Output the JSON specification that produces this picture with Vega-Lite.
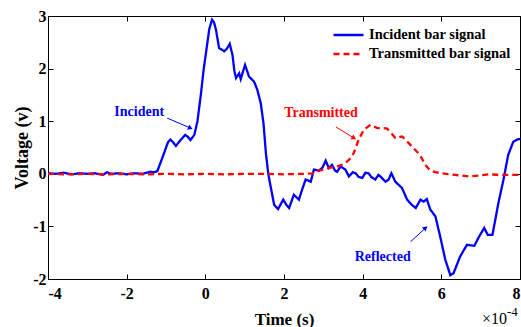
{
  "$schema": "https://vega.github.io/schema/vega-lite/v6.json",
  "width": 472,
  "height": 263,
  "autosize": {"type": "none"},
  "padding": {"left": 48, "top": 16, "right": 1, "bottom": 48},
  "background": "white",
  "config": {
    "view": {"stroke": "black", "strokeWidth": 1},
    "font": "Liberation Serif",
    "axis": {
      "grid": false,
      "domainColor": "black",
      "tickColor": "black",
      "tickSize": -5,
      "labelFont": "Liberation Serif",
      "labelFontWeight": "bold",
      "labelFontSize": 16,
      "labelColor": "black",
      "titleFont": "Liberation Serif",
      "titleFontWeight": "bold",
      "titleFontSize": 17,
      "titleColor": "black"
    }
  },
  "datasets": {
    "signals": [
      {"t": -4.0e-4, "v": 0.01, "series": "Incident bar signal"},
      {"t": -3.8e-4, "v": 0.0, "series": "Incident bar signal"},
      {"t": -3.6e-4, "v": 0.02, "series": "Incident bar signal"},
      {"t": -3.4e-4, "v": -0.01, "series": "Incident bar signal"},
      {"t": -3.2e-4, "v": 0.01, "series": "Incident bar signal"},
      {"t": -3.0e-4, "v": 0.0, "series": "Incident bar signal"},
      {"t": -2.8e-4, "v": 0.01, "series": "Incident bar signal"},
      {"t": -2.6e-4, "v": -0.02, "series": "Incident bar signal"},
      {"t": -2.5e-4, "v": 0.03, "series": "Incident bar signal"},
      {"t": -2.4e-4, "v": 0.0, "series": "Incident bar signal"},
      {"t": -2.2e-4, "v": 0.01, "series": "Incident bar signal"},
      {"t": -2.0e-4, "v": -0.01, "series": "Incident bar signal"},
      {"t": -1.8e-4, "v": 0.01, "series": "Incident bar signal"},
      {"t": -1.6e-4, "v": 0.0, "series": "Incident bar signal"},
      {"t": -1.4e-4, "v": 0.04, "series": "Incident bar signal"},
      {"t": -1.3e-4, "v": 0.03, "series": "Incident bar signal"},
      {"t": -1.22e-4, "v": 0.05, "series": "Incident bar signal"},
      {"t": -1.08e-4, "v": 0.33, "series": "Incident bar signal"},
      {"t": -0.95e-4, "v": 0.6, "series": "Incident bar signal"},
      {"t": -0.89e-4, "v": 0.65, "series": "Incident bar signal"},
      {"t": -0.82e-4, "v": 0.6, "series": "Incident bar signal"},
      {"t": -0.75e-4, "v": 0.53, "series": "Incident bar signal"},
      {"t": -0.62e-4, "v": 0.65, "series": "Incident bar signal"},
      {"t": -0.51e-4, "v": 0.74, "series": "Incident bar signal"},
      {"t": -0.44e-4, "v": 0.7, "series": "Incident bar signal"},
      {"t": -0.38e-4, "v": 0.64, "series": "Incident bar signal"},
      {"t": -0.28e-4, "v": 0.74, "series": "Incident bar signal"},
      {"t": -0.2e-4, "v": 1.0, "series": "Incident bar signal"},
      {"t": -0.11e-4, "v": 1.53, "series": "Incident bar signal"},
      {"t": -0.04e-4, "v": 2.0, "series": "Incident bar signal"},
      {"t": 0.015e-4, "v": 2.29, "series": "Incident bar signal"},
      {"t": 0.1e-4, "v": 2.75, "series": "Incident bar signal"},
      {"t": 0.17e-4, "v": 2.93, "series": "Incident bar signal"},
      {"t": 0.22e-4, "v": 2.88, "series": "Incident bar signal"},
      {"t": 0.27e-4, "v": 2.74, "series": "Incident bar signal"},
      {"t": 0.35e-4, "v": 2.39, "series": "Incident bar signal"},
      {"t": 0.48e-4, "v": 2.33, "series": "Incident bar signal"},
      {"t": 0.55e-4, "v": 2.38, "series": "Incident bar signal"},
      {"t": 0.62e-4, "v": 2.47, "series": "Incident bar signal"},
      {"t": 0.69e-4, "v": 2.26, "series": "Incident bar signal"},
      {"t": 0.74e-4, "v": 1.95, "series": "Incident bar signal"},
      {"t": 0.78e-4, "v": 1.82, "series": "Incident bar signal"},
      {"t": 0.86e-4, "v": 1.91, "series": "Incident bar signal"},
      {"t": 0.9e-4, "v": 1.8, "series": "Incident bar signal"},
      {"t": 0.96e-4, "v": 1.95, "series": "Incident bar signal"},
      {"t": 1.01e-4, "v": 2.07, "series": "Incident bar signal"},
      {"t": 1.11e-4, "v": 1.85, "series": "Incident bar signal"},
      {"t": 1.24e-4, "v": 1.75, "series": "Incident bar signal"},
      {"t": 1.32e-4, "v": 1.6, "series": "Incident bar signal"},
      {"t": 1.41e-4, "v": 1.34, "series": "Incident bar signal"},
      {"t": 1.48e-4, "v": 0.95, "series": "Incident bar signal"},
      {"t": 1.54e-4, "v": 0.39, "series": "Incident bar signal"},
      {"t": 1.6e-4, "v": 0.0, "series": "Incident bar signal"},
      {"t": 1.66e-4, "v": -0.24, "series": "Incident bar signal"},
      {"t": 1.75e-4, "v": -0.59, "series": "Incident bar signal"},
      {"t": 1.85e-4, "v": -0.67, "series": "Incident bar signal"},
      {"t": 1.98e-4, "v": -0.49, "series": "Incident bar signal"},
      {"t": 2.05e-4, "v": -0.58, "series": "Incident bar signal"},
      {"t": 2.13e-4, "v": -0.65, "series": "Incident bar signal"},
      {"t": 2.25e-4, "v": -0.4, "series": "Incident bar signal"},
      {"t": 2.38e-4, "v": -0.49, "series": "Incident bar signal"},
      {"t": 2.47e-4, "v": -0.28, "series": "Incident bar signal"},
      {"t": 2.55e-4, "v": -0.11, "series": "Incident bar signal"},
      {"t": 2.62e-4, "v": -0.13, "series": "Incident bar signal"},
      {"t": 2.68e-4, "v": -0.15, "series": "Incident bar signal"},
      {"t": 2.76e-4, "v": 0.08, "series": "Incident bar signal"},
      {"t": 2.89e-4, "v": 0.06, "series": "Incident bar signal"},
      {"t": 2.98e-4, "v": 0.12, "series": "Incident bar signal"},
      {"t": 3.06e-4, "v": 0.25, "series": "Incident bar signal"},
      {"t": 3.14e-4, "v": 0.11, "series": "Incident bar signal"},
      {"t": 3.22e-4, "v": 0.17, "series": "Incident bar signal"},
      {"t": 3.3e-4, "v": 0.06, "series": "Incident bar signal"},
      {"t": 3.35e-4, "v": 0.04, "series": "Incident bar signal"},
      {"t": 3.44e-4, "v": 0.14, "series": "Incident bar signal"},
      {"t": 3.56e-4, "v": 0.08, "series": "Incident bar signal"},
      {"t": 3.65e-4, "v": -0.05, "series": "Incident bar signal"},
      {"t": 3.75e-4, "v": 0.03, "series": "Incident bar signal"},
      {"t": 3.82e-4, "v": 0.01, "series": "Incident bar signal"},
      {"t": 3.9e-4, "v": -0.06, "series": "Incident bar signal"},
      {"t": 3.99e-4, "v": -0.08, "series": "Incident bar signal"},
      {"t": 4.07e-4, "v": 0.02, "series": "Incident bar signal"},
      {"t": 4.15e-4, "v": 0.01, "series": "Incident bar signal"},
      {"t": 4.22e-4, "v": -0.06, "series": "Incident bar signal"},
      {"t": 4.32e-4, "v": -0.11, "series": "Incident bar signal"},
      {"t": 4.4e-4, "v": -0.02, "series": "Incident bar signal"},
      {"t": 4.45e-4, "v": -0.05, "series": "Incident bar signal"},
      {"t": 4.58e-4, "v": -0.15, "series": "Incident bar signal"},
      {"t": 4.66e-4, "v": -0.11, "series": "Incident bar signal"},
      {"t": 4.73e-4, "v": 0.01, "series": "Incident bar signal"},
      {"t": 4.83e-4, "v": -0.15, "series": "Incident bar signal"},
      {"t": 5.0e-4, "v": -0.27, "series": "Incident bar signal"},
      {"t": 5.13e-4, "v": -0.49, "series": "Incident bar signal"},
      {"t": 5.25e-4, "v": -0.59, "series": "Incident bar signal"},
      {"t": 5.35e-4, "v": -0.65, "series": "Incident bar signal"},
      {"t": 5.47e-4, "v": -0.49, "series": "Incident bar signal"},
      {"t": 5.55e-4, "v": -0.53, "series": "Incident bar signal"},
      {"t": 5.63e-4, "v": -0.48, "series": "Incident bar signal"},
      {"t": 5.72e-4, "v": -0.68, "series": "Incident bar signal"},
      {"t": 5.85e-4, "v": -0.81, "series": "Incident bar signal"},
      {"t": 5.97e-4, "v": -1.19, "series": "Incident bar signal"},
      {"t": 6.1e-4, "v": -1.63, "series": "Incident bar signal"},
      {"t": 6.23e-4, "v": -1.93, "series": "Incident bar signal"},
      {"t": 6.31e-4, "v": -1.89, "series": "Incident bar signal"},
      {"t": 6.48e-4, "v": -1.57, "series": "Incident bar signal"},
      {"t": 6.65e-4, "v": -1.35, "series": "Incident bar signal"},
      {"t": 6.84e-4, "v": -1.37, "series": "Incident bar signal"},
      {"t": 6.94e-4, "v": -1.22, "series": "Incident bar signal"},
      {"t": 7.09e-4, "v": -1.03, "series": "Incident bar signal"},
      {"t": 7.18e-4, "v": -1.16, "series": "Incident bar signal"},
      {"t": 7.3e-4, "v": -1.16, "series": "Incident bar signal"},
      {"t": 7.45e-4, "v": -0.56, "series": "Incident bar signal"},
      {"t": 7.58e-4, "v": -0.11, "series": "Incident bar signal"},
      {"t": 7.7e-4, "v": 0.36, "series": "Incident bar signal"},
      {"t": 7.83e-4, "v": 0.61, "series": "Incident bar signal"},
      {"t": 7.96e-4, "v": 0.66, "series": "Incident bar signal"},
      {"t": 8.0e-4, "v": 0.66, "series": "Incident bar signal"},
      {"t": -4.0e-4, "v": 0.0, "series": "Transmitted bar signal"},
      {"t": -3.5e-4, "v": -0.01, "series": "Transmitted bar signal"},
      {"t": -3.0e-4, "v": 0.0, "series": "Transmitted bar signal"},
      {"t": -2.5e-4, "v": -0.01, "series": "Transmitted bar signal"},
      {"t": -2.0e-4, "v": 0.0, "series": "Transmitted bar signal"},
      {"t": -1.5e-4, "v": -0.01, "series": "Transmitted bar signal"},
      {"t": -1.0e-4, "v": 0.0, "series": "Transmitted bar signal"},
      {"t": -0.5e-4, "v": -0.01, "series": "Transmitted bar signal"},
      {"t": 0.0, "v": 0.0, "series": "Transmitted bar signal"},
      {"t": 0.5e-4, "v": -0.01, "series": "Transmitted bar signal"},
      {"t": 1.0e-4, "v": 0.0, "series": "Transmitted bar signal"},
      {"t": 1.5e-4, "v": 0.0, "series": "Transmitted bar signal"},
      {"t": 2.0e-4, "v": -0.01, "series": "Transmitted bar signal"},
      {"t": 2.5e-4, "v": 0.0, "series": "Transmitted bar signal"},
      {"t": 2.72e-4, "v": 0.01, "series": "Transmitted bar signal"},
      {"t": 2.9e-4, "v": 0.06, "series": "Transmitted bar signal"},
      {"t": 3.06e-4, "v": 0.09, "series": "Transmitted bar signal"},
      {"t": 3.2e-4, "v": 0.12, "series": "Transmitted bar signal"},
      {"t": 3.39e-4, "v": 0.15, "series": "Transmitted bar signal"},
      {"t": 3.5e-4, "v": 0.18, "series": "Transmitted bar signal"},
      {"t": 3.6e-4, "v": 0.23, "series": "Transmitted bar signal"},
      {"t": 3.7e-4, "v": 0.3, "series": "Transmitted bar signal"},
      {"t": 3.77e-4, "v": 0.39, "series": "Transmitted bar signal"},
      {"t": 3.9e-4, "v": 0.65, "series": "Transmitted bar signal"},
      {"t": 4.03e-4, "v": 0.84, "series": "Transmitted bar signal"},
      {"t": 4.2e-4, "v": 0.93, "series": "Transmitted bar signal"},
      {"t": 4.37e-4, "v": 0.87, "series": "Transmitted bar signal"},
      {"t": 4.5e-4, "v": 0.87, "series": "Transmitted bar signal"},
      {"t": 4.62e-4, "v": 0.86, "series": "Transmitted bar signal"},
      {"t": 4.72e-4, "v": 0.78, "series": "Transmitted bar signal"},
      {"t": 4.83e-4, "v": 0.68, "series": "Transmitted bar signal"},
      {"t": 5.0e-4, "v": 0.71, "series": "Transmitted bar signal"},
      {"t": 5.1e-4, "v": 0.64, "series": "Transmitted bar signal"},
      {"t": 5.25e-4, "v": 0.52, "series": "Transmitted bar signal"},
      {"t": 5.42e-4, "v": 0.39, "series": "Transmitted bar signal"},
      {"t": 5.5e-4, "v": 0.3, "series": "Transmitted bar signal"},
      {"t": 5.59e-4, "v": 0.17, "series": "Transmitted bar signal"},
      {"t": 5.72e-4, "v": 0.06, "series": "Transmitted bar signal"},
      {"t": 5.85e-4, "v": 0.03, "series": "Transmitted bar signal"},
      {"t": 6.01e-4, "v": 0.01, "series": "Transmitted bar signal"},
      {"t": 6.35e-4, "v": -0.02, "series": "Transmitted bar signal"},
      {"t": 6.69e-4, "v": -0.05, "series": "Transmitted bar signal"},
      {"t": 7.0e-4, "v": -0.03, "series": "Transmitted bar signal"},
      {"t": 7.2e-4, "v": -0.01, "series": "Transmitted bar signal"},
      {"t": 7.5e-4, "v": -0.02, "series": "Transmitted bar signal"},
      {"t": 8.0e-4, "v": -0.02, "series": "Transmitted bar signal"}
    ],
    "notes": [
      {"label": "Incident", "series": "Incident bar signal", "tx": -1.68e-4, "ty": 1.18, "x1": -0.97e-4, "y1": 1.06, "x2": -0.38e-4, "y2": 0.87},
      {"label": "Transmitted", "series": "Transmitted bar signal", "tx": 2.94e-4, "ty": 1.16, "x1": 3.32e-4, "y1": 0.89, "x2": 3.78e-4, "y2": 0.68},
      {"label": "Reflected", "series": "Incident bar signal", "tx": 4.51e-4, "ty": -1.58, "x1": 5.22e-4, "y1": -1.29, "x2": 5.6e-4, "y2": -1.03}
    ],
    "exponent": [
      {"base": "×10", "power": "-4", "t": 8.0e-4, "v": -2}
    ]
  },
  "layer": [
    {
      "data": {"name": "signals"},
      "mark": {"type": "line", "strokeWidth": 2.3},
      "encoding": {
        "x": {
          "field": "t", "type": "quantitative",
          "scale": {"domain": [-0.0004, 0.0008], "nice": false, "zero": false},
          "axis": {
            "orient": "bottom",
            "values": [-0.0004, -0.0002, 0, 0.0002, 0.0004, 0.0006, 0.0008],
            "labelExpr": "'' + round(datum.value * 10000)",
            "labelPadding": 11,
            "title": "Time (s)",
            "titlePadding": 10
          }
        },
        "y": {
          "field": "v", "type": "quantitative",
          "scale": {"domain": [-2, 3], "nice": false, "zero": false},
          "axis": {
            "orient": "left",
            "values": [-2, -1, 0, 1, 2, 3],
            "labelExpr": "'' + round(datum.value)",
            "labelPadding": 7,
            "title": "Voltage (v)",
            "titleFontSize": 18,
            "titlePadding": 1
          }
        },
        "color": {
          "field": "series", "type": "nominal",
          "scale": {"domain": ["Incident bar signal", "Transmitted bar signal"], "range": ["#0000ff", "#ff0000"]},
          "legend": {
            "title": null, "orient": "none", "legendX": 284, "legendY": 12,
            "symbolType": "stroke", "symbolSize": 900, "symbolStrokeWidth": 2.3,
            "labelFont": "Liberation Serif", "labelFontWeight": "bold", "labelFontSize": 14.5,
            "labelColor": "black", "labelOffset": 4, "rowPadding": 4, "padding": 0, "clipHeight": 14
          }
        },
        "strokeDash": {
          "field": "series", "type": "nominal",
          "scale": {"domain": ["Incident bar signal", "Transmitted bar signal"], "range": [[1, 0], [6, 4]]},
          "legend": {
            "title": null, "orient": "none", "legendX": 284, "legendY": 12,
            "symbolType": "stroke", "symbolSize": 900, "symbolStrokeWidth": 2.3,
            "labelFont": "Liberation Serif", "labelFontWeight": "bold", "labelFontSize": 14.5,
            "labelColor": "black", "labelOffset": 4, "rowPadding": 4, "padding": 0, "clipHeight": 14
          }
        }
      }
    },
    {
      "data": {"name": "signals"},
      "mark": {"type": "point", "opacity": 0},
      "encoding": {
        "x": {
          "field": "t", "type": "quantitative",
          "axis": {"orient": "top", "values": [-0.0004, -0.0002, 0, 0.0002, 0.0004, 0.0006, 0.0008], "labels": false, "title": null}
        },
        "y": {
          "field": "v", "type": "quantitative",
          "axis": {"orient": "right", "values": [-2, -1, 0, 1, 2, 3], "labels": false, "title": null}
        }
      }
    },
    {
      "data": {"name": "notes"},
      "mark": {"type": "rule", "strokeWidth": 1},
      "encoding": {
        "x": {"field": "x1", "type": "quantitative", "axis": null},
        "y": {"field": "y1", "type": "quantitative", "axis": null},
        "x2": {"field": "x2"},
        "y2": {"field": "y2"},
        "color": {"field": "series", "type": "nominal", "legend": null}
      }
    },
    {
      "data": {"name": "notes"},
      "transform": [{"filter": "datum.label == 'Incident'"}],
      "mark": {"type": "point", "shape": "triangle-right", "filled": true, "opacity": 1, "size": 30, "angle": 23},
      "encoding": {
        "x": {"field": "x2", "type": "quantitative", "axis": null},
        "y": {"field": "y2", "type": "quantitative", "axis": null},
        "color": {"field": "series", "type": "nominal", "legend": null}
      }
    },
    {
      "data": {"name": "notes"},
      "transform": [{"filter": "datum.label == 'Transmitted'"}],
      "mark": {"type": "point", "shape": "triangle-right", "filled": true, "opacity": 1, "size": 30, "angle": 31},
      "encoding": {
        "x": {"field": "x2", "type": "quantitative", "axis": null},
        "y": {"field": "y2", "type": "quantitative", "axis": null},
        "color": {"field": "series", "type": "nominal", "legend": null}
      }
    },
    {
      "data": {"name": "notes"},
      "transform": [{"filter": "datum.label == 'Reflected'"}],
      "mark": {"type": "point", "shape": "triangle-right", "filled": true, "opacity": 1, "size": 30, "angle": -43},
      "encoding": {
        "x": {"field": "x2", "type": "quantitative", "axis": null},
        "y": {"field": "y2", "type": "quantitative", "axis": null},
        "color": {"field": "series", "type": "nominal", "legend": null}
      }
    },
    {
      "data": {"name": "notes"},
      "mark": {"type": "text", "font": "Liberation Serif", "fontWeight": "bold", "fontSize": 14, "align": "center", "baseline": "middle"},
      "encoding": {
        "x": {"field": "tx", "type": "quantitative", "axis": null},
        "y": {"field": "ty", "type": "quantitative", "axis": null},
        "text": {"field": "label"},
        "color": {"field": "series", "type": "nominal", "legend": null}
      }
    },
    {
      "data": {"name": "exponent"},
      "mark": {"type": "text", "font": "Liberation Serif", "fontSize": 16, "align": "right", "baseline": "alphabetic", "dx": -13, "dy": 45, "color": "black"},
      "encoding": {
        "x": {"field": "t", "type": "quantitative", "axis": null},
        "y": {"field": "v", "type": "quantitative", "axis": null},
        "text": {"field": "base"}
      }
    },
    {
      "data": {"name": "exponent"},
      "mark": {"type": "text", "font": "Liberation Serif", "fontSize": 13, "align": "left", "baseline": "alphabetic", "dx": -13, "dy": 37, "color": "black"},
      "encoding": {
        "x": {"field": "t", "type": "quantitative", "axis": null},
        "y": {"field": "v", "type": "quantitative", "axis": null},
        "text": {"field": "power"}
      }
    }
  ],
  "resolve": {"axis": {"x": "independent", "y": "independent"}}
}
